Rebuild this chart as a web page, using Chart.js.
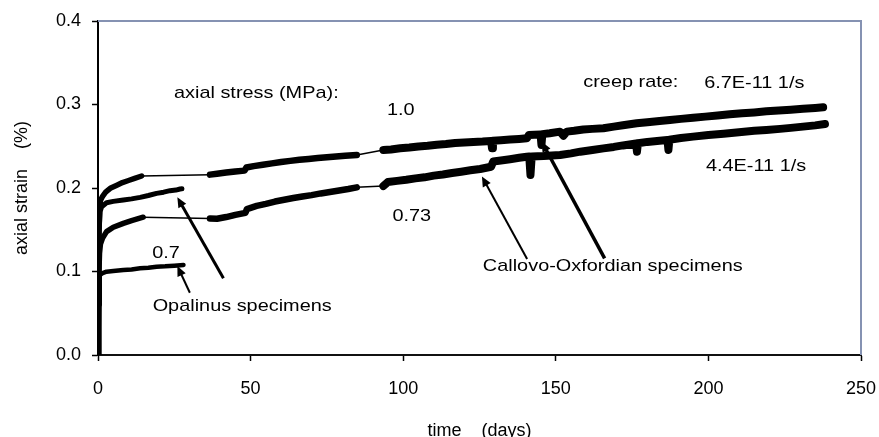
<!DOCTYPE html>
<html>
<head>
<meta charset="utf-8">
<script src="https://cdn.jsdelivr.net/npm/chart.js@4.4.1/dist/chart.umd.min.js"></script>
<style>
    html, body { margin: 0; padding: 0; background: #fff; }
    canvas { display: block; }
</style>
</head>
<body>
<canvas id="creep-chart" width="879" height="437"></canvas>
<script>
// Callovo-Oxfordian, 1.0 MPa
const co10Days = [0, 0.15, 0.3, 0.5, 0.8, 1.5, 2.5, 4, 6, 8, 10, 12, 14.3,
    36.7, 39, 42, 45, 48, 48.6, 51, 54, 57, 60, 63, 66, 69, 72, 75, 78, 81, 84.8,
    93.5, 96, 99, 102, 105, 108, 111, 114, 117, 120, 123, 126, 128.8, 129.1, 129.4, 132, 135, 138, 140.5, 141.2,
    143, 145, 145.3, 145.6, 148, 151.4, 152.5, 153.6, 156, 159, 162, 165.6, 169, 172, 176.5, 180, 184, 187.4,
    191, 195, 199, 203, 207, 211, 215, 219, 223, 227, 231, 235, 237.6];
const co10Strain = [0, 0.04, 0.13, 0.172, 0.185, 0.19, 0.195, 0.1996, 0.203, 0.2065, 0.209, 0.2115, 0.2144,
    0.216, 0.217, 0.2185, 0.2198, 0.2208, 0.2245, 0.2262, 0.2278, 0.2295, 0.2312, 0.2325, 0.2338, 0.2348, 0.2358, 0.2368, 0.2378, 0.2386, 0.2395,
    0.2455, 0.2462, 0.2475, 0.2484, 0.2497, 0.2505, 0.2518, 0.2526, 0.2538, 0.2545, 0.2552, 0.2556, 0.2562, 0.2475, 0.2565, 0.2572, 0.258, 0.2588, 0.2595, 0.2635,
    0.2638, 0.2642, 0.2515, 0.2645, 0.2655, 0.2675, 0.2625, 0.2675, 0.2685, 0.27, 0.2708, 0.2715, 0.2735, 0.2752, 0.2775, 0.2788, 0.2802, 0.2814,
    0.2828, 0.284, 0.2855, 0.2868, 0.2882, 0.2894, 0.2905, 0.2918, 0.2928, 0.2938, 0.2948, 0.2958, 0.2966];

// Callovo-Oxfordian, 0.73 MPa
const co073Days = [0, 0.15, 0.3, 0.5, 0.8, 1.5, 2.8, 5, 8.3, 11, 14.8,
    36.7, 39, 42, 45, 48.3, 48.8, 52, 55, 58, 61, 64, 67, 70, 73, 76, 79, 82, 84.8,
    93.5, 95, 98, 101, 104, 107, 110, 113, 116, 119, 122, 125.2, 128.8, 129.5, 132, 135, 138, 140.5, 141.3, 141.7, 142.1,
    146, 151.4, 155, 158, 162, 165.6, 169, 172, 176.3, 176.6, 176.9, 180, 184, 186.6, 186.9, 187.2,
    191, 195, 200, 205, 210, 215, 219, 223.5, 227, 231, 235, 238.2];
const co073Strain = [0, 0.03, 0.09, 0.122, 0.133, 0.14, 0.1477, 0.153, 0.1577, 0.161, 0.165,
    0.1634, 0.1632, 0.1652, 0.1678, 0.1702, 0.1748, 0.1785, 0.181, 0.1838, 0.186, 0.188, 0.1898, 0.1915, 0.1935, 0.1952, 0.197, 0.1988, 0.2008,
    0.2024, 0.2072, 0.2085, 0.2098, 0.2115, 0.2128, 0.2148, 0.2162, 0.218, 0.2195, 0.2212, 0.2228, 0.2255, 0.2318, 0.233, 0.2345, 0.2362, 0.2375, 0.2378, 0.2156, 0.2378,
    0.2382, 0.2395, 0.2415, 0.2435, 0.2455, 0.2475, 0.2492, 0.251, 0.2532, 0.2435, 0.2535, 0.2552, 0.2565, 0.2575, 0.2455, 0.2578,
    0.2598, 0.2615, 0.2635, 0.265, 0.2668, 0.2685, 0.2695, 0.2708, 0.272, 0.2735, 0.275, 0.2766];

// Opalinus specimens
const opaUpperDays = [0, 0.2, 0.4, 0.7, 1.2, 2.8, 5, 8.3, 11, 13.8, 16.5, 19.2, 21.5, 23.6, 25.5, 26.9, 27.5];
const opaUpperStrain = [0, 0.05, 0.15, 0.172, 0.1776, 0.1824, 0.184, 0.1856, 0.187, 0.1888, 0.191, 0.1936, 0.195, 0.1968, 0.1975, 0.1988, 0.199];
const opa07Days = [0, 0.2, 0.35, 0.5, 0.65, 1.5, 2.8, 5, 8.3, 11, 13.8, 16.5, 19.2, 22, 25, 28];
const opa07Strain = [0, 0.02, 0.06, 0.09, 0.0958, 0.098, 0.0998, 0.1005, 0.1018, 0.1025, 0.1038, 0.1045, 0.1058, 0.1062, 0.107, 0.1078];

const xTicks = [0, 50, 100, 150, 200, 250];
const yTicks = [0.0, 0.1, 0.2, 0.3, 0.4];

// text notes and arrows, placed in data units (days, strain)
const notes = [
    { text: 'axial stress (MPa):', x: 24.9, y: 0.3138, align: 'left' },
    { text: '1.0', x: 99.2, y: 0.2934, align: 'center' },
    { text: '0.73', x: 102.8, y: 0.1656, align: 'center' },
    { text: '0.7', x: 22.3, y: 0.1218, align: 'center' },
    { text: 'Opalinus specimens', x: 17.9, y: 0.0578, align: 'left' },
    { text: 'Callovo-Oxfordian specimens', x: 126.1, y: 0.1066, align: 'left' },
    { text: 'creep rate:', x: 159.0, y: 0.326, align: 'left' },
    { text: '6.7E-11 1/s', x: 198.6, y: 0.3254, align: 'left' },
    { text: '4.4E-11 1/s', x: 199.2, y: 0.2255, align: 'left' },
];

const arrows = [
    { from: [30.1, 0.0746], to: [26.0, 0.1066], width: 2 },
    { from: [41.1, 0.0918], to: [26.0, 0.1889], width: 3 },
    { from: [140.6, 0.115], to: [125.8, 0.2138], width: 2 },
    { from: [166.0, 0.1158], to: [145.4, 0.2554], width: 3.5 },
];

const FONT = "'Liberation Sans', Arial, sans-serif";
const FRAME_COLOR = '#8592b2';

const CreepChart = {
    chart: null,

    init() {
        Chart.defaults.font.family = FONT;
        Chart.defaults.color = '#000';

        this.chart = new Chart(document.getElementById('creep-chart'), {
            type: 'line',
            data: {
                datasets: [
                    this.series('CO 1.0 MPa', co10Days, co10Strain, [5.5, 6.5, 8]),
                    this.series('CO 0.73 MPa', co073Days, co073Strain, [5.5, 6.5, 8]),
                    this.series('Opalinus', opaUpperDays, opaUpperStrain, [5, 5, 5]),
                    this.series('Opalinus 0.7 MPa', opa07Days, opa07Strain, [4.5, 4.5, 4.5]),
                ],
            },
            options: {
                responsive: false,
                animation: false,
                layout: { padding: { top: 21, right: 18, left: 0, bottom: 0 } },
                plugins: { legend: { display: false }, tooltip: { enabled: false } },
                scales: {
                    x: {
                        type: 'linear',
                        min: 0,
                        max: 250,
                        afterFit: scale => {
                            scale.height = 82;
                            scale.paddingLeft = 0;
                            scale.paddingRight = 0;
                        },
                        afterBuildTicks: scale => { scale.ticks = xTicks.map(value => ({ value })); },
                        grid: { drawOnChartArea: false, drawTicks: true, tickLength: 6, tickColor: '#000', tickWidth: 1.5 },
                        border: { display: true, color: '#111', width: 2 },
                        ticks: { padding: 17, font: { size: 18 }, maxRotation: 0 },
                        title: {
                            display: true,
                            text: 'time    (days)',
                            font: { size: 18, lineHeight: 0.7 },
                            padding: { top: 0, bottom: 0 },
                        },
                    },
                    y: {
                        min: 0,
                        max: 0.4,
                        afterFit: scale => {
                            scale.width = 98;
                            scale.paddingTop = 0;
                            scale.paddingBottom = 0;
                        },
                        afterBuildTicks: scale => { scale.ticks = yTicks.map(value => ({ value })); },
                        grid: { drawOnChartArea: false, drawTicks: true, tickLength: 6, tickColor: '#000', tickWidth: 1.5 },
                        border: { display: true, color: '#000', width: 2 },
                        ticks: { padding: 11, font: { size: 18 }, callback: value => Number(value).toFixed(1) },
                        title: {
                            display: true,
                            text: 'axial strain    (%)',
                            font: { size: 18 },
                            padding: { top: 11, bottom: 0 },
                        },
                    },
                },
            },
            plugins: [this.notesPlugin()],
        });
    },

    // widths: [early part, middle part, late part]; connector segments over gaps stay thin
    series(label, days, strain, widths) {
        return {
            label,
            data: days.map((day, i) => ({ x: day, y: strain[i] })),
            borderColor: '#000',
            borderWidth: widths[0],
            pointRadius: 0,
            tension: 0,
            borderJoinStyle: 'round',
            borderCapStyle: 'round',
            segment: {
                borderWidth: ctx => {
                    const x0 = ctx.p0.parsed.x;
                    const x1 = ctx.p1.parsed.x;
                    if (x1 - x0 > 6) {
                        return 1.5;
                    }
                    if (x0 < 30) {
                        return widths[0];
                    }
                    return x0 < 90 ? widths[1] : widths[2];
                },
            },
        };
    },

    notesPlugin() {
        return {
            id: 'creepNotes',
            afterDatasetsDraw(chart) {
                const { ctx, chartArea, scales } = chart;
                const px = value => scales.x.getPixelForValue(value);
                const py = value => scales.y.getPixelForValue(value);

                ctx.save();

                // top and right frame lines
                ctx.strokeStyle = FRAME_COLOR;
                ctx.lineWidth = 2;
                ctx.beginPath();
                ctx.moveTo(chartArea.left, chartArea.top);
                ctx.lineTo(chartArea.right, chartArea.top);
                ctx.lineTo(chartArea.right, chartArea.bottom);
                ctx.stroke();

                ctx.strokeStyle = '#000';
                ctx.fillStyle = '#000';
                arrows.forEach(arrow => {
                    const x0 = px(arrow.from[0]);
                    const y0 = py(arrow.from[1]);
                    const x1 = px(arrow.to[0]);
                    const y1 = py(arrow.to[1]);
                    const angle = Math.atan2(y1 - y0, x1 - x0);
                    const headLen = 10;
                    const headHalf = 4.5;

                    ctx.lineWidth = arrow.width;
                    ctx.beginPath();
                    ctx.moveTo(x0, y0);
                    ctx.lineTo(x1 - Math.cos(angle) * headLen * 0.8, y1 - Math.sin(angle) * headLen * 0.8);
                    ctx.stroke();

                    ctx.beginPath();
                    ctx.moveTo(x1, y1);
                    ctx.lineTo(x1 - Math.cos(angle) * headLen - Math.sin(angle) * headHalf,
                        y1 - Math.sin(angle) * headLen + Math.cos(angle) * headHalf);
                    ctx.lineTo(x1 - Math.cos(angle) * headLen + Math.sin(angle) * headHalf,
                        y1 - Math.sin(angle) * headLen - Math.cos(angle) * headHalf);
                    ctx.closePath();
                    ctx.fill();
                });

                // the note text in the original is drawn a little wide
                ctx.font = `17px ${FONT}`;
                ctx.textBaseline = 'middle';
                notes.forEach(note => {
                    ctx.save();
                    ctx.translate(px(note.x), py(note.y));
                    ctx.scale(1.17, 1);
                    ctx.textAlign = note.align;
                    ctx.fillText(note.text, 0, 0);
                    ctx.restore();
                });

                ctx.restore();
            },
        };
    },
};

CreepChart.init();
</script>
</body>
</html>
